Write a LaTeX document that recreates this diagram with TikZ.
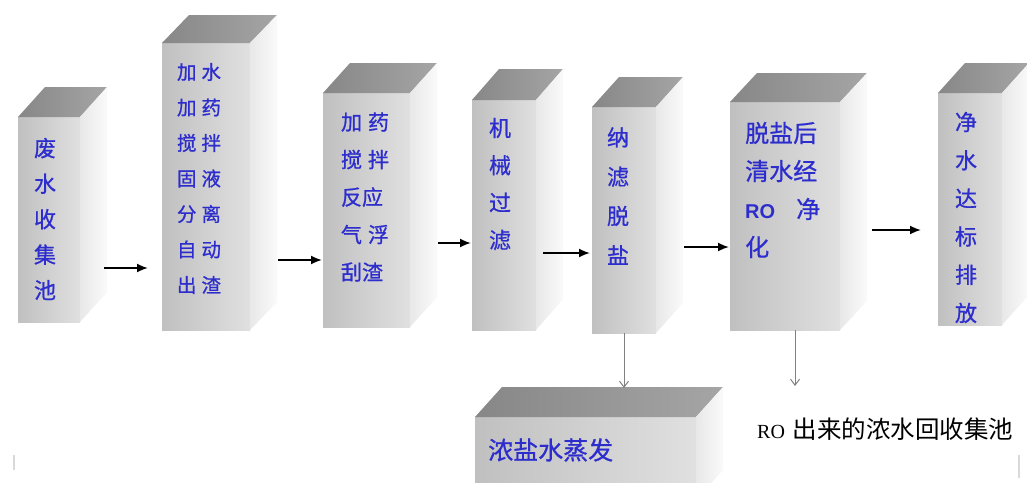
\documentclass[tikz,border=0pt]{standalone}
\usepackage{fontspec}
\setmainfont{Noto Sans CJK SC}
\newfontfamily\boldcjk{Noto Sans CJK SC}[FakeBold=0.8]
\newfontfamily\rofont{Liberation Sans}
\newfontfamily\roserif{Liberation Serif}
\usetikzlibrary{arrows.meta}
\definecolor{txtblue}{RGB}{45,45,205}
\definecolor{frontL}{RGB}{192,192,192}
\definecolor{frontR}{RGB}{224,224,224}
\definecolor{sideL}{RGB}{232,232,232}
\definecolor{sideR}{RGB}{250,250,250}
\definecolor{topL}{RGB}{135,135,135}
\definecolor{topR}{RGB}{165,165,165}
\tikzset{
  front/.style={inner sep=0pt, outer sep=0pt, anchor=north west, left color=frontL, right color=frontR, draw=none},
  boxtext/.style={text=txtblue, inner sep=0pt},
  flow/.style={-{Latex[length=11pt,width=9pt]}, line width=1.8pt, black},
  drain/.style={-{Straight Barb[length=6pt,width=9pt]}, line width=1pt, gray},
}
% name, x1, y1, x2, y2, depth-up
\newcommand\cuboid[6]{%
  \node[front, minimum width={(#4-#2)*1pt}, minimum height={(#5-#3)*1pt}] (#1) at (#2,#3) {};
  \shade[left color=topL, right color=topR] (#1.north west) -- ++(27,-#6) -- ++({#4-#2},0) -- (#1.north east) -- cycle;
  \shade[left color=sideL, right color=sideR] (#1.north east) -- ++(27,-#6) -- ++(0,{#5-#3}) -- (#1.south east) -- cycle;
}
\begin{document}
\begin{tikzpicture}[x=1pt,y=-1pt]
\useasboundingbox[fill=white] (0,0) rectangle (1027,482);

\cuboid{b1}{18}{117}{80}{322}{30}
\cuboid{b2}{162}{43}{250}{330}{28}
\cuboid{b3}{323}{93}{410}{327}{30}
\cuboid{b4}{472}{100}{536}{330}{31}
\cuboid{b5}{592}{107}{656}{333}{30}
\cuboid{b6}{730}{102}{840}{330}{29}
\cuboid{b7}{938}{93}{1002}{325}{30}
\cuboid{bot}{475}{417}{696}{500}{30}

\node[boxtext, align=center, font=\boldcjk\fontsize{22}{35.5}\selectfont] (t1) at (45,219) {废\\水\\收\\集\\池};
\node[boxtext, align=left, font=\boldcjk\fontsize{19.5}{35.5}\selectfont] (t2) at (199,178.5)
  {加\hspace{5pt}水\\加\hspace{5pt}药\\搅\hspace{5pt}拌\\固\hspace{5pt}液\\分\hspace{5pt}离\\自\hspace{5pt}动\\出\hspace{5pt}渣};
\node[boxtext, align=left, font=\boldcjk\fontsize{21}{37.5}\selectfont] (t3) at (365,197)
  {加\hspace{6pt}药\\搅\hspace{6pt}拌\\反应\\气\hspace{6pt}浮\\刮渣};
\node[boxtext, align=center, font=\boldcjk\fontsize{22}{37.3}\selectfont] (t4) at (500,184) {机\\械\\过\\滤};
\node[boxtext, align=center, font=\boldcjk\fontsize{22}{39.3}\selectfont] (t5) at (618,196) {纳\\滤\\脱\\盐};
\node[boxtext, align=left, text width=75pt, anchor=west, font=\boldcjk\fontsize{24}{38}\selectfont] (t6) at (745,190)
  {脱盐后\\清水经\\{\rofont\bfseries\fontsize{20}{38}\selectfont RO}\hfill 净\\化};
\node[boxtext, align=center, font=\boldcjk\fontsize{22}{38.2}\selectfont] (t7) at (966,217.5) {净\\水\\达\\标\\排\\放};
\node[boxtext, anchor=west, font=\boldcjk\fontsize{25}{30}\selectfont] (t8) at (488,450) {浓盐水蒸发};

\node[inner sep=0pt, anchor=west, font=\fontsize{24.5}{30}\selectfont] (lbl) at (757,429)
  {{\roserif\fontsize{20}{30}\selectfont RO}\hspace{8pt}出来的浓水回收集池};

% main flow arrows
\coordinate (a1s) at (104,268); \coordinate (a1e) at (148,268);
\coordinate (a2s) at (278,260); \coordinate (a2e) at (322,260);
\coordinate (a3s) at (438,243); \coordinate (a3e) at (471,243);
\coordinate (a4s) at (543,253); \coordinate (a4e) at (590,253);
\coordinate (a5s) at (684,247); \coordinate (a5e) at (729,247);
\coordinate (a6s) at (872,230); \coordinate (a6e) at (921,230);
\draw[flow] (a1s) -- (a1e);
\draw[flow] (a2s) -- (a2e);
\draw[flow] (a3s) -- (a3e);
\draw[flow] (a4s) -- (a4e);
\draw[flow] (a5s) -- (a5e);
\draw[flow] (a6s) -- (a6e);

% drain arrows
\coordinate (v1e) at (624,388);
\coordinate (v2s) at (795,330); \coordinate (v2e) at (795,386);
\draw[drain] (b5.south) -- (v1e);
\draw[drain] (v2s) -- (v2e);

% faint marks at the page edges
\draw[black!15, line width=1.2pt] (14,455) -- (14,470);
\draw[black!15, line width=1.2pt] (1019,455) -- (1019,478);
\end{tikzpicture}
\end{document}
